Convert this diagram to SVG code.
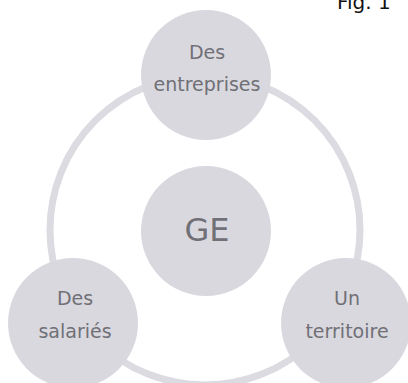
<svg xmlns="http://www.w3.org/2000/svg" width="408" height="383" viewBox="0 0 408 383">
  <style>
    .node { fill: #d9d8df; }
    .ring { fill: none; stroke: #dcdbe1; stroke-width: 7; }
    .label { font-family: "DejaVu Sans", Verdana, sans-serif; font-size: 19px; fill: #707076; text-anchor: middle; }
    .big { font-size: 32px; }
    .fig { font-family: "DejaVu Sans", Verdana, sans-serif; font-size: 20px; fill: #111111; }
  </style>
  <rect width="408" height="383" fill="#ffffff"/>

  <!-- ring linking the three outer circles -->
  <g id="connectors">
    <circle class="ring" cx="205" cy="230" r="155"/>
  </g>

  <g id="node-entreprises">
    <circle class="node" cx="206" cy="75" r="65"/>
    <text class="label" x="207" y="59">Des</text>
    <text class="label" x="207" y="91">entreprises</text>
  </g>

  <g id="node-ge">
    <circle class="node" cx="206" cy="231" r="65"/>
    <text class="label big" x="207" y="241">GE</text>
  </g>

  <g id="node-salaries">
    <circle class="node" cx="73" cy="323" r="65"/>
    <text class="label" x="75" y="305">Des</text>
    <text class="label" x="75" y="338">salariés</text>
  </g>

  <g id="node-territoire">
    <circle class="node" cx="346" cy="323" r="65"/>
    <text class="label" x="347" y="305">Un</text>
    <text class="label" x="347" y="338">territoire</text>
  </g>

  <text class="fig" x="337" y="9">Fig. 1</text>
</svg>
